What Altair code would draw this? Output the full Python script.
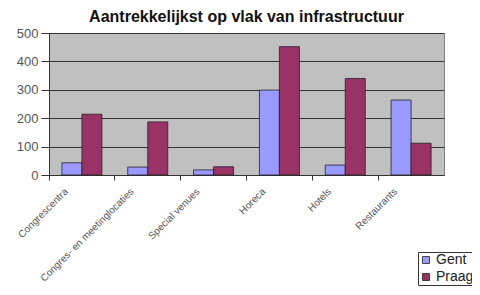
import altair as alt
import pandas as pd

categories = ["Congrescentra", "Congres- en meetinglocaties", "Special venues", "Horeca", "Hotels", "Restaurants"]
series = ["Gent", "Praag"]
gent = [43, 28, 18, 299, 35, 264]
praag = [214, 187, 29, 452, 340, 112]
y_ticks = [0, 100, 200, 300, 400, 500]

rows = []
for c, g, p in zip(categories, gent, praag):
    rows.append({"cat": c, "stad": "Gent", "v": g})
    rows.append({"cat": c, "stad": "Praag", "v": p})
df = pd.DataFrame(rows)

FONT = "Liberation Sans"

chart = alt.Chart(df).mark_bar(stroke="#222222", strokeWidth=0.8).encode(
    x=alt.X("cat:N", sort=categories, title=None,
            scale=alt.Scale(paddingInner=0, paddingOuter=0),
            axis=alt.Axis(labelAngle=-45, labelAlign="right", labelBaseline="top",
                          bandPosition=0, labelOffset=-19, labelPadding=6,
                          tickSize=5, tickColor="#333333", domainColor="#333333",
                          labelFont=FONT, labelFontSize=10, labelColor="#555555",
                          labelLimit=250)),
    xOffset=alt.XOffset("stad:N", sort=series,
                        scale=alt.Scale(paddingInner=0, paddingOuter=0.645)),
    y=alt.Y("v:Q", title=None,
            scale=alt.Scale(domain=[0, 500], nice=False),
            axis=alt.Axis(values=y_ticks, grid=True, gridColor="#333333", gridWidth=1,
                          tickSize=8, tickColor="#333333", domainColor="#333333",
                          labelFont=FONT, labelFontSize=13, labelColor="#555555",
                          labelPadding=3)),
    color=alt.Color("stad:N", sort=series, title=None,
                    scale=alt.Scale(domain=series, range=["#9999ff", "#993366"]),
                    legend=alt.Legend(orient="none", legendX=369, legendY=219,
                                      symbolType="square", symbolSize=49,
                                      symbolStrokeColor="#222222", symbolStrokeWidth=0.8,
                                      labelFont=FONT, labelFontSize=14, labelColor="#222222",
                                      labelOffset=3,
                                      strokeColor="#333333", padding=1, rowPadding=3,
                                      fillColor="white")),
).properties(
    width=395, height=142,
    title=alt.Title("Aantrekkelijkst op vlak van infrastructuur", font=FONT,
                    fontSize=16, fontWeight="bold", anchor="middle", offset=2,
                    color="#111111"),
    autosize=alt.AutoSizeParams(type="none"),
    padding={"left": 41, "top": 25, "right": 28, "bottom": 112},
).configure_view(fill="#c0c0c0", stroke="#808080", strokeWidth=1)

chart.save("out.html", embed_options={"renderer": "svg", "actions": False})
